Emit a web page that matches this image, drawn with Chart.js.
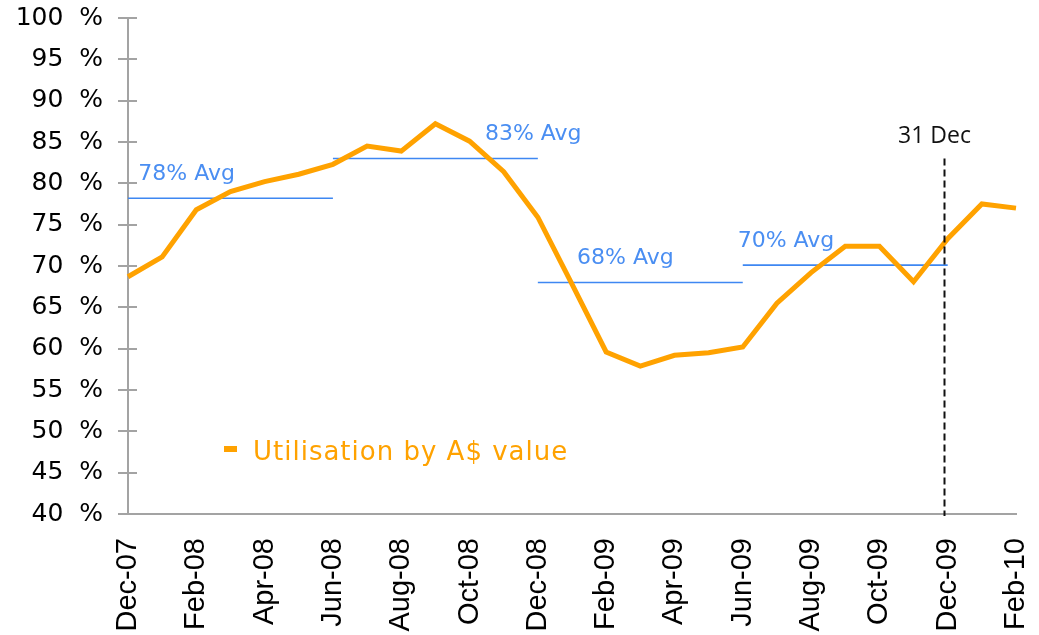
<!DOCTYPE html>
<html>
<head>
<meta charset="utf-8">
<script src="https://cdn.jsdelivr.net/npm/chart.js@4/dist/chart.umd.min.js"></script>
<style>
  html, body { margin: 0; padding: 0; background: #ffffff; }
  #wrap { width: 1039px; height: 635px; position: relative; }
</style>
</head>
<body>
<div id="wrap"><canvas id="c"></canvas></div>
<script>
// ---- data ----
const months = ['Dec-07','Jan-08','Feb-08','Mar-08','Apr-08','May-08','Jun-08','Jul-08','Aug-08','Sep-08','Oct-08','Nov-08',
                'Dec-08','Jan-09','Feb-09','Mar-09','Apr-09','May-09','Jun-09','Jul-09','Aug-09','Sep-09','Oct-09','Nov-09',
                'Dec-09','Jan-10','Feb-10'];
const utilisation = [68.7, 71.1, 76.8, 79.0, 80.2, 81.1, 82.3, 84.5, 83.9, 87.2, 85.1, 81.4,
                     75.9, 67.8, 59.6, 57.9, 59.2, 59.5, 60.2, 65.5, 69.2, 72.4, 72.4, 68.1,
                     73.3, 77.5, 77.0];
const seriesName = 'Utilisation by A$ value';
const avgValues = [78.2, 83.0, 68.0, 70.1];
const avgStart = ['Dec-07', 'Jun-08', 'Dec-08', 'Jun-09'];
const avgEnd = ['Jun-08', 'Dec-08', 'Jun-09', 'Dec-09'];
const avgLabels = ['78% Avg', '83% Avg', '68% Avg', '70% Avg'];
const markerLabel = '31 Dec';
const markerMonth = 'Dec-09';
const yTicks = [40, 45, 50, 55, 60, 65, 70, 75, 80, 85, 90, 95, 100];

const ORANGE = '#FFA200';
const BLUE = '#3E87F2';
const BLUE_TXT = '#4A8EF2';
const AXIS = '#A3A3A3';

const avgDatasets = avgValues.map((v, i) => ({
  label: avgLabels[i],
  data: [{x: avgStart[i], y: v}, {x: avgEnd[i], y: v}],
  borderColor: BLUE,
  borderWidth: 1.6,
  pointRadius: 0,
  fill: false,
  order: 2
}));

const notesPlugin = {
  id: 'notes',
  afterDraw(chart, args, opts) {
    const {ctx, chartArea} = chart;
    const xs = chart.scales.x, ys = chart.scales.y;
    ctx.save();
    // cross tick marks on y axis
    ctx.strokeStyle = AXIS;
    ctx.lineWidth = 2;
    ys.ticks.forEach(t => {
      const py = Math.round(ys.getPixelForValue(t.value));
      ctx.beginPath();
      ctx.moveTo(chartArea.left - 10, py);
      ctx.lineTo(chartArea.left + 9, py);
      ctx.stroke();
    });
    // avg labels
    ctx.fillStyle = BLUE_TXT;
    ctx.font = '22px "DejaVu Sans"';
    ctx.textAlign = 'left';
    ctx.textBaseline = 'alphabetic';
    avgLabels.forEach((lab, i) => {
      const px = xs.getPixelForValue(opts.labelAt[i]);
      const py = ys.getPixelForValue(avgValues[i] + opts.labelLift);
      ctx.fillText(lab, px, py);
    });
    // dashed marker line
    const mIdx = months.indexOf(markerMonth) + opts.markerShift;
    const mx = Math.round(xs.getPixelForValue(mIdx)) + 0.5;
    ctx.strokeStyle = '#111111';
    ctx.lineWidth = 2;
    ctx.setLineDash([7, 4]);
    ctx.beginPath();
    ctx.moveTo(mx, ys.getPixelForValue(opts.markerTop));
    ctx.lineTo(mx, chartArea.bottom + 2);
    ctx.stroke();
    ctx.setLineDash([]);
    ctx.fillStyle = '#111111';
    ctx.font = '23px "Open Sans"';
    ctx.textAlign = 'center';
    ctx.fillText(markerLabel, mx - 10, ys.getPixelForValue(opts.markerTop) - 16);
    // legend
    const lx = chartArea.left + 96, ly = chartArea.top + 430;
    ctx.fillStyle = ORANGE;
    ctx.fillRect(lx, ly - 2, 13, 6);
    ctx.font = '26px "DejaVu Sans"';
    try { ctx.letterSpacing = '1px'; } catch (e) {}
    ctx.textAlign = 'left';
    ctx.textBaseline = 'alphabetic';
    ctx.fillText(chart.data.datasets[0].label, lx + 29, ly + 12);
    ctx.restore();
  }
};

const noPad = s => { s.paddingLeft = 0; s.paddingRight = 0; s.paddingTop = 0; s.paddingBottom = 0; };

new Chart(document.getElementById('c'), {
  type: 'line',
  data: {
    labels: months,
    datasets: [{
      label: seriesName,
      data: utilisation,
      borderColor: ORANGE,
      backgroundColor: ORANGE,
      borderWidth: 5,
      pointRadius: 0,
      tension: 0,
      fill: false,
      order: 1
    }].concat(avgDatasets)
  },
  options: {
    responsive: true,
    maintainAspectRatio: false,
    animation: false,
    layout: { padding: { left: 0, right: 23, top: 18, bottom: 0 } },
    plugins: {
      legend: { display: false },
      tooltip: { enabled: false },
      notes: { labelAt: [0.3, 10.45, 13.15, 17.85], labelLift: 2.2, markerShift: -0.12, markerTop: 83 }
    },
    scales: {
      x: {
        type: 'category',
        offset: false,
        grid: { display: true, drawOnChartArea: false, drawTicks: false },
        border: { display: true, color: AXIS, width: 2 },
        ticks: {
          autoSkip: false,
          maxRotation: 90,
          minRotation: 90,
          padding: 24,
          color: '#000000',
          font: { family: '"Liberation Sans", Arial, sans-serif', size: 29 },
          callback: (v, i) => (i % 2 === 0 ? months[i] : '')
        },
        afterFit: s => { s.height = 121; noPad(s); }
      },
      y: {
        min: 40,
        max: 100,
        afterBuildTicks: s => { s.ticks = yTicks.map(v => ({ value: v })); },
        grid: { display: true, drawOnChartArea: false, drawTicks: false },
        border: { display: true, color: AXIS, width: 2 },
        ticks: {
          padding: 25,
          color: '#000000',
          font: { family: '"DejaVu Sans", sans-serif', size: 25 },
          callback: v => v + '  %'
        },
        afterFit: s => { s.width = 128; noPad(s); }
      }
    }
  },
  plugins: [notesPlugin]
});
</script>
</body>
</html>
